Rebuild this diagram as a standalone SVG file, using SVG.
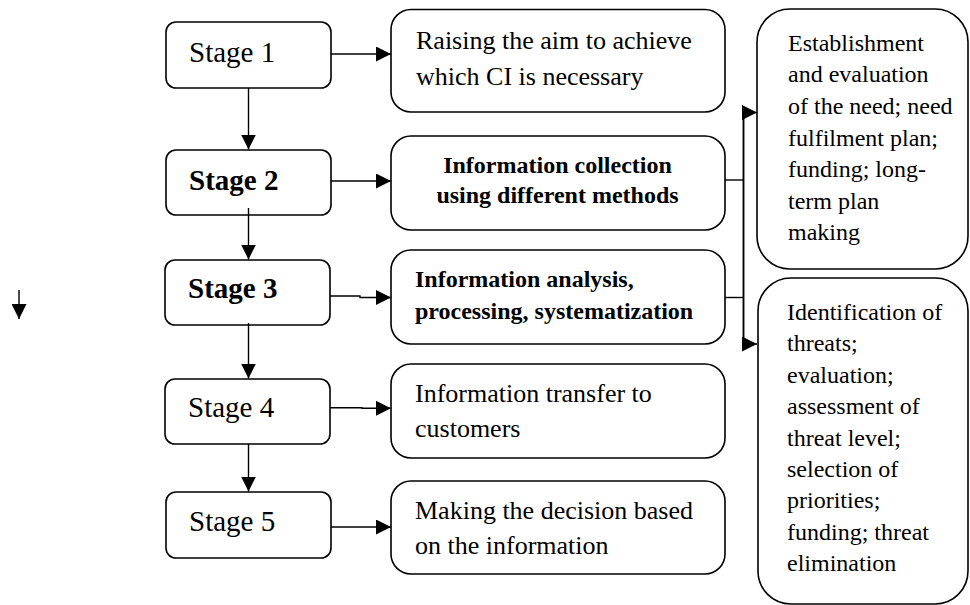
<svg xmlns="http://www.w3.org/2000/svg" width="970" height="605" viewBox="0 0 970 605">
<defs>
<marker id="ah" viewBox="0 0 10 10" refX="10" refY="5" markerWidth="15" markerHeight="15" markerUnits="userSpaceOnUse" orient="auto">
<path d="M0,0 L10,5 L0,10 Z" fill="#000"/>
</marker>
</defs>
<style>
.box{fill:#fff;stroke:#000;stroke-width:1.6}
.ln{fill:none;stroke:#000;stroke-width:1.4}
.stg{font-family:"Liberation Serif","Times New Roman",serif;font-size:29px;fill:#000}
.txt{font-family:"Liberation Serif","Times New Roman",serif;font-size:26px;fill:#000}
.bt{font-family:"Liberation Serif","Times New Roman",serif;font-size:24px;font-weight:bold;fill:#000}
.rt{font-family:"Liberation Serif","Times New Roman",serif;font-size:24px;fill:#000}
.b{font-weight:bold}
</style>
<rect width="970" height="605" fill="#fff"/>
<g id="stage1">
<rect class="box" x="166" y="22" width="165" height="66" rx="10"/>
<text class="stg" x="189" y="62">Stage 1</text>
</g>
<g id="stage2">
<rect class="box" x="166" y="150" width="165" height="65" rx="10"/>
<text class="stg b" x="189" y="190">Stage 2</text>
</g>
<g id="stage3">
<rect class="box" x="165" y="260" width="165" height="65" rx="10"/>
<text class="stg b" x="188" y="298">Stage 3</text>
</g>
<g id="stage4">
<rect class="box" x="165" y="379" width="165" height="65" rx="10"/>
<text class="stg" x="188" y="417">Stage 4</text>
</g>
<g id="stage5">
<rect class="box" x="166" y="492" width="165" height="66" rx="10"/>
<text class="stg" x="189" y="531">Stage 5</text>
</g>
<g id="box1">
<rect class="box" x="391" y="9.5" width="334" height="102.5" rx="20"/>
<text class="txt" x="416" y="49">Raising the aim to achieve</text>
<text class="txt" x="416" y="85">which CI is necessary</text>
</g>
<g id="box2">
<rect class="box" x="391" y="136" width="334" height="94" rx="20"/>
<text class="bt" x="557.5" y="173" text-anchor="middle">Information collection</text>
<text class="bt" x="557.5" y="203" text-anchor="middle">using different methods</text>
</g>
<g id="box3">
<rect class="box" x="391" y="250" width="334" height="94" rx="20"/>
<text class="bt" x="415" y="287">Information analysis,</text>
<text class="bt" x="415" y="318.5">processing, systematization</text>
</g>
<g id="box4">
<rect class="box" x="391" y="364" width="334" height="94" rx="20"/>
<text class="txt" x="415" y="402">Information transfer to</text>
<text class="txt" x="415" y="437">customers</text>
</g>
<g id="box5">
<rect class="box" x="391" y="481" width="334" height="93" rx="20"/>
<text class="txt" x="415" y="518.5">Making the decision based</text>
<text class="txt" x="415" y="553.5">on the information</text>
</g>
<g id="need">
<rect class="box" x="757" y="9" width="211" height="260" rx="33"/>
<text class="rt" x="788" y="50.7">Establishment</text>
<text class="rt" x="788" y="82.3">and evaluation</text>
<text class="rt" x="788" y="113.9">of the need; need</text>
<text class="rt" x="788" y="145.5">fulfilment plan;</text>
<text class="rt" x="788" y="177.1">funding; long-</text>
<text class="rt" x="788" y="208.7">term plan</text>
<text class="rt" x="788" y="240.3">making</text>
</g>
<g id="threats">
<rect class="box" x="758" y="278" width="210" height="326" rx="33"/>
<text class="rt" x="787" y="320">Identification of</text>
<text class="rt" x="787" y="351.4">threats;</text>
<text class="rt" x="787" y="382.8">evaluation;</text>
<text class="rt" x="787" y="414.2">assessment of</text>
<text class="rt" x="787" y="445.6">threat level;</text>
<text class="rt" x="787" y="477">selection of</text>
<text class="rt" x="787" y="508.4">priorities;</text>
<text class="rt" x="787" y="539.8">funding; threat</text>
<text class="rt" x="787" y="571.2">elimination</text>
</g>
<g id="connectors">
<line class="ln" x1="248.5" y1="88" x2="248.5" y2="149.5" marker-end="url(#ah)"/>
<line class="ln" x1="248.5" y1="208" x2="248.5" y2="259.5" marker-end="url(#ah)"/>
<line class="ln" x1="248.5" y1="323" x2="248.5" y2="378.5" marker-end="url(#ah)"/>
<line class="ln" x1="248.5" y1="444" x2="248.5" y2="491.5" marker-end="url(#ah)"/>
<line class="ln" x1="331" y1="54" x2="391" y2="54" marker-end="url(#ah)"/>
<line class="ln" x1="331" y1="181" x2="391" y2="181" marker-end="url(#ah)"/>
<path class="ln" d="M330,296 H360 V297.5 H391" marker-end="url(#ah)"/>
<path class="ln" d="M330,407.7 H362 V408.3 H391" marker-end="url(#ah)"/>
<line class="ln" x1="331" y1="527" x2="391" y2="527" marker-end="url(#ah)"/>
<line class="ln" x1="725" y1="180" x2="743.5" y2="180"/>
<line class="ln" x1="725" y1="297.5" x2="743.5" y2="297.5"/>
<line x1="743.5" y1="112" x2="743.5" y2="344" stroke="#000" stroke-width="1.9"/>
<line class="ln" x1="743.5" y1="112.5" x2="757" y2="112.5" marker-end="url(#ah)"/>
<line class="ln" x1="743.5" y1="344" x2="757" y2="344" marker-end="url(#ah)"/>
<line class="ln" x1="19" y1="290" x2="19" y2="319" marker-end="url(#ah)"/>
</g>
</svg>
